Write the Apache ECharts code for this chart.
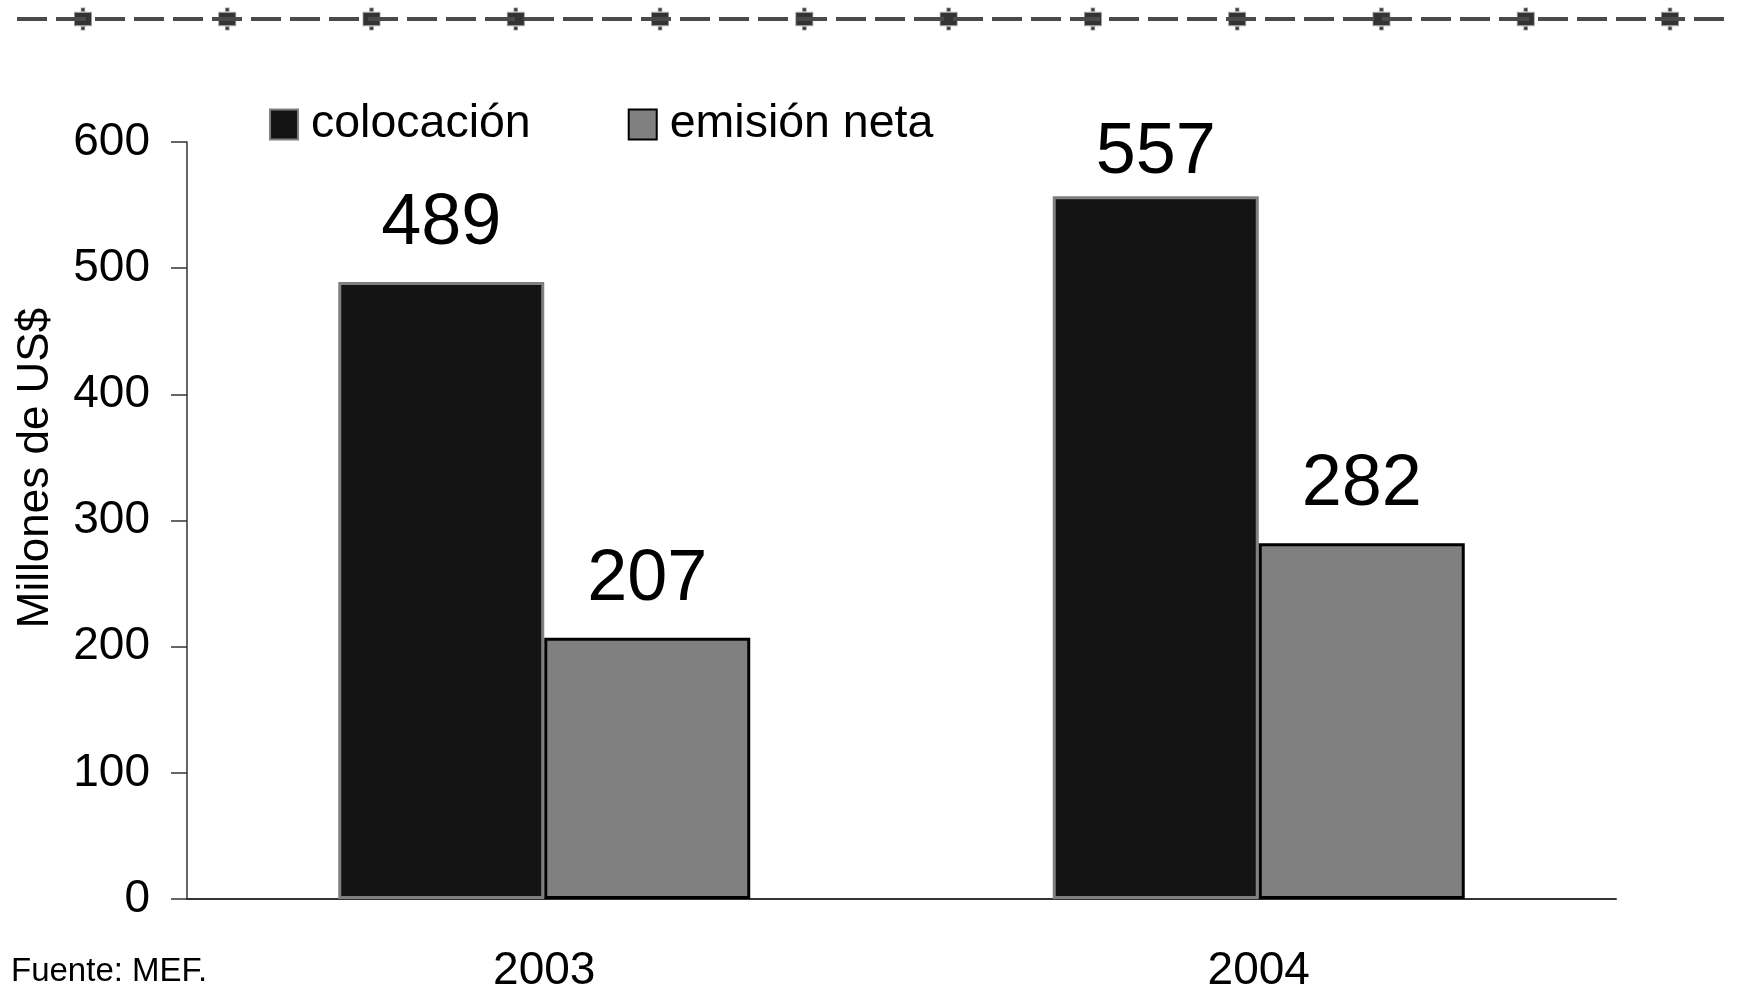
<!DOCTYPE html>
<html>
<head>
<meta charset="utf-8">
<script src="https://cdn.jsdelivr.net/npm/echarts@6/dist/echarts.min.js"></script>
<style>
  html, body { margin: 0; padding: 0; background: #ffffff; }
  #chart { width: 1740px; height: 990px; }
</style>
</head>
<body>
<div id="chart"></div>
<script>
// Years on the category axis
const years = ['2003', '2004'];
// Millions of US$ per year
const colocacion = [489, 557];
const emisionNeta = [207, 282];
// Y-axis ticks
const yTicks = [0, 100, 200, 300, 400, 500, 600];
// Decorative header rule: marker slots along the top border
const ornamentSlots = [0, 1, 2, 3, 4, 5, 6, 7, 8, 9, 10, 11];

const FONT = 'Liberation Sans, Arial, Helvetica, sans-serif';

const valueLabel = {
  show: true,
  position: 'top',
  distance: 22,
  fontSize: 72,
  color: '#000',
  fontFamily: FONT
};

const chart = echarts.init(document.getElementById('chart'), null, { renderer: 'canvas' });

chart.setOption({
  backgroundColor: '#ffffff',
  animation: false,
  textStyle: { fontFamily: FONT, color: '#000' },
  legend: {
    left: 264,
    top: 96,
    icon: 'rect',
    itemWidth: 28,
    itemHeight: 30,
    itemGap: 97,
    textStyle: { fontSize: 46.5, color: '#000', fontFamily: FONT, padding: [0, 0, 0, 8] },
    data: ['colocación', 'emisión neta']
  },
  grid: [
    { left: 187, right: 124, top: 142, bottom: 91, containLabel: false, outerBoundsMode: 'none' },
    { left: 0, right: 0, top: 0, height: 38, containLabel: false, outerBoundsMode: 'none' }
  ],
  xAxis: [
    {
      type: 'category',
      gridIndex: 0,
      data: years,
      boundaryGap: true,
      axisLine: { lineStyle: { color: '#333', width: 2 } },
      axisTick: { length: 15, lineStyle: { color: '#333', width: 1.5 } },
      axisLabel: { fontSize: 46, color: '#000', margin: 49, fontFamily: FONT }
    },
    {
      type: 'value',
      gridIndex: 1,
      min: -0.575,
      max: 11.485,
      show: false
    }
  ],
  yAxis: [
    {
      type: 'value',
      gridIndex: 0,
      min: yTicks[0],
      max: yTicks[yTicks.length - 1],
      interval: 100,
      axisLine: { show: true, lineStyle: { color: '#333', width: 1.5 } },
      axisTick: { show: true, length: 16, lineStyle: { color: '#333', width: 1.5 } },
      axisLabel: { fontSize: 46, color: '#000', margin: 37, fontFamily: FONT },
      splitLine: { show: false }
    },
    {
      type: 'value',
      gridIndex: 1,
      min: -1,
      max: 1,
      show: false
    }
  ],
  graphic: [
    {
      type: 'text',
      x: 36,
      y: 468,
      rotation: Math.PI / 2,
      style: {
        text: 'Millones de US$',
        font: '44px ' + FONT,
        fill: '#000',
        textAlign: 'center',
        textVerticalAlign: 'middle'
      }
    },
    {
      type: 'text',
      left: 11,
      top: 955,
      style: {
        text: 'Fuente: MEF.',
        font: '33px ' + FONT,
        fill: '#000'
      }
    }
  ],
  series: [
    {
      name: 'colocación',
      type: 'bar',
      xAxisIndex: 0,
      yAxisIndex: 0,
      // the tall 2004 value sits its label closer to the bar
      data: colocacion.map((v, i) => i === 1 ? { value: v, label: { distance: 7 } } : v),
      barWidth: 206,
      barGap: '0%',
      itemStyle: { color: '#141414', borderColor: '#808080', borderWidth: 3 },
      label: valueLabel
    },
    {
      name: 'emisión neta',
      type: 'bar',
      xAxisIndex: 0,
      yAxisIndex: 0,
      data: emisionNeta,
      barWidth: 206,
      barGap: '0%',
      itemStyle: { color: '#808080', borderColor: '#000', borderWidth: 3 },
      label: valueLabel
    },
    {
      // dashed header rule
      type: 'line',
      xAxisIndex: 1,
      yAxisIndex: 1,
      data: [[-0.457, 0], [11.41, 0]],
      symbol: 'none',
      silent: true,
      lineStyle: { color: '#4a4a4a', width: 4, type: [30, 9] }
    },
    {
      // studded markers on the header rule
      type: 'scatter',
      xAxisIndex: 1,
      yAxisIndex: 1,
      data: ornamentSlots.map(i => [i, 0]),
      symbol: 'path://M3,4H17V16H3Z M8.5,0H11.5V3H8.5Z M8.5,17H11.5V20H8.5Z',
      symbolSize: [17, 22],
      silent: true,
      itemStyle: { color: '#000', borderColor: '#999', borderWidth: 1 }
    }
  ]
});
</script>
</body>
</html>
